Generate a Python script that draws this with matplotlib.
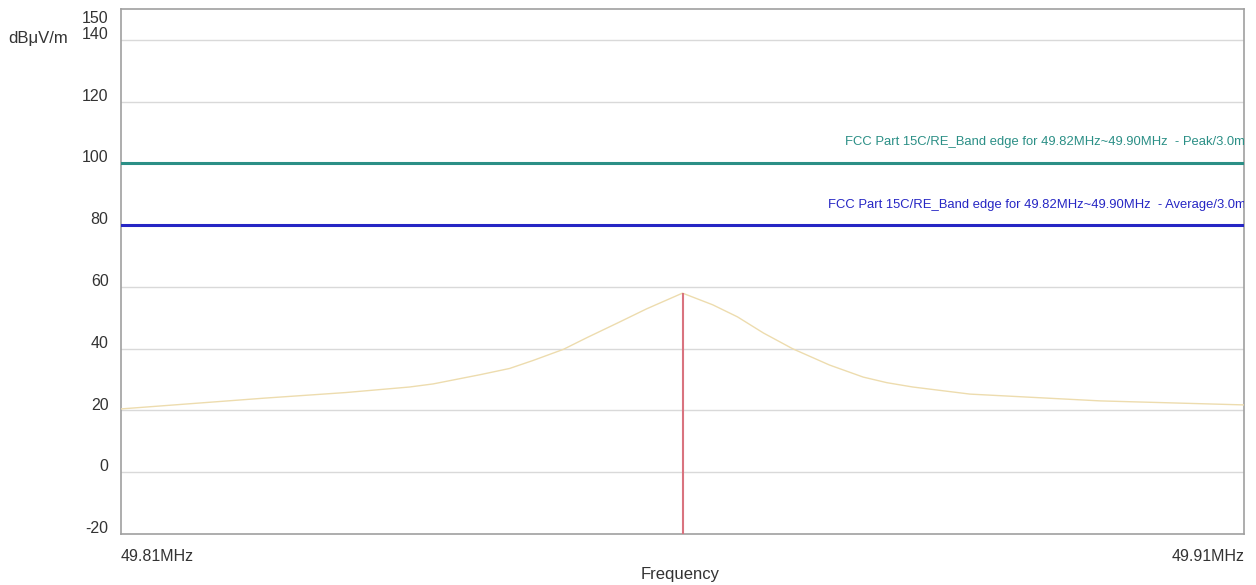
import matplotlib
matplotlib.use("Agg")
import matplotlib.pyplot as plt
import matplotlib.transforms as mtransforms

plt.rcParams['font.family'] = ['Liberation Sans', 'DejaVu Sans']

# Data (MHz, dBuV/m)
freq = [49.8100, 49.8228, 49.8300, 49.8357, 49.8378, 49.8420, 49.8446, 49.8467,
        49.8494, 49.8515, 49.8542, 49.8568, 49.8600, 49.8627, 49.8649, 49.8672,
        49.8698, 49.8731, 49.8761, 49.8782, 49.8805, 49.8856, 49.8972, 49.9100]
level = [20.5, 24.0, 25.8, 27.6, 28.6, 31.6, 33.6, 36.2,
         39.8, 43.6, 48.3, 52.9, 58.0, 54.2, 50.3, 45.1,
         40.0, 34.7, 30.8, 29.0, 27.6, 25.3, 23.1, 21.8]
marker_freq = 49.8600
marker_level = 58.0
peak_limit = 100
avg_limit = 80
peak_label = "FCC Part 15C/RE_Band edge for 49.82MHz~49.90MHz  - Peak/3.0m"
avg_label = "FCC Part 15C/RE_Band edge for 49.82MHz~49.90MHz  - Average/3.0m"
yticks = [-20, 0, 20, 40, 60, 80, 100, 120, 140, 150]
xticks = [49.81, 49.91]
xticklabels = ["49.81MHz", "49.91MHz"]

fig = plt.figure(figsize=(12.56, 5.85), dpi=100)
ax = fig.add_axes([121/1256, 1 - 534/585, (1244-121)/1256, (534-9)/585])

ax.set_xlim(49.81, 49.91)
ax.set_ylim(-20, 150)

for y in yticks[1:-1]:
    ax.axhline(y, color='#d9d9d9', lw=1.0, zorder=1)

ax.plot(freq, level, color='#eddcae', lw=1.0, zorder=3)
ax.vlines(marker_freq, -20, marker_level, color='#d9737f', lw=1.5, zorder=4)

ax.axhline(peak_limit, color='#2b8f86', lw=2.2, zorder=5)
ax.axhline(avg_limit, color='#2626c4', lw=2.2, zorder=5)

ax.text(49.9101, peak_limit + 7, peak_label, color='#2b8f86', fontsize=9.4,
        ha='right', va='center', clip_on=True)
ax.text(49.9102, avg_limit + 6.5, avg_label, color='#2626c4', fontsize=9.4,
        ha='right', va='center', clip_on=True)

ax.set_yticks(yticks)
ax.set_yticklabels([str(v) for v in yticks], fontsize=11.5, color='#333333')
ax.set_xticks(xticks)
ax.set_xticklabels(xticklabels, fontsize=11.5, color='#333333')
labs = ax.get_xticklabels()
labs[0].set_ha('left')
labs[1].set_ha('right')
ax.tick_params(axis='y', length=0, pad=9)
ax.tick_params(axis='x', length=0, pad=11)

for v, lab in zip(yticks, ax.get_yticklabels()):
    dy = -6/72 if v == 150 else 5/72
    lab.set_transform(lab.get_transform() +
                      mtransforms.ScaledTranslation(0, dy, fig.dpi_scale_trans))

for s in ax.spines.values():
    s.set_color('#a0a0a0')
    s.set_linewidth(1.2)

fig.text(680/1256, 1 - 574/585, "Frequency", fontsize=12, color='#333333',
         ha='center', va='center')
fig.text(8/1256, 1 - 39/585, "dBμV/m", fontsize=12, color='#333333',
         ha='left', va='center')

fig.savefig("out.png", dpi=100)
